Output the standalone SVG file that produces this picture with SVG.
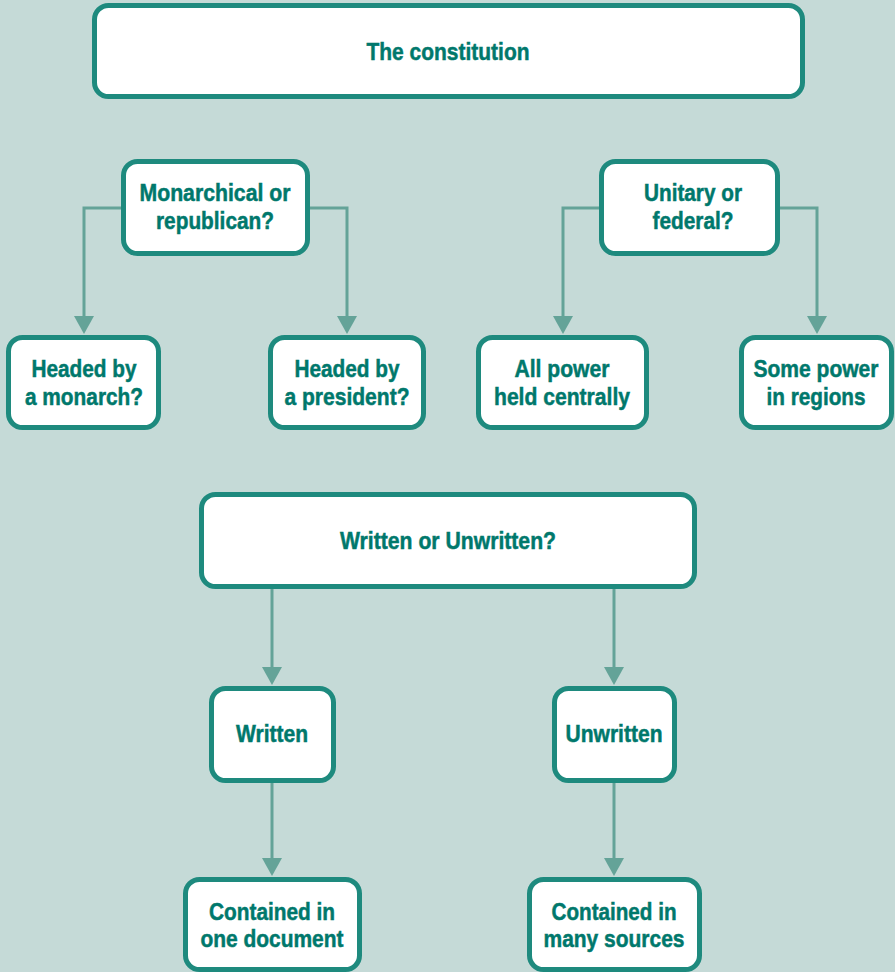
<svg xmlns="http://www.w3.org/2000/svg" width="895" height="972" viewBox="0 0 895 972">
<style>
.bg{fill:#c5dad7}
.box{fill:#ffffff;stroke:#1e8a7e;stroke-width:5}
.lbl{font-family:"Liberation Sans",Arial,sans-serif;font-weight:bold;font-size:24px;fill:#00786c;stroke:#00786c;stroke-width:0.5;text-anchor:middle}
.con{fill:none;stroke:#64a398;stroke-width:3}
</style>
<defs>
<marker id="ah" viewBox="0 0 18 20" refX="4" refY="10" markerWidth="18" markerHeight="20" markerUnits="userSpaceOnUse" orient="auto">
<path d="M0,0 L18,10 L0,20 z" fill="#64a398"/>
</marker>
</defs>
<rect class="bg" x="0" y="0" width="895" height="972"/>
<g id="connectors">
<path class="con" d="M123.5,208 H84 V320" marker-end="url(#ah)"/>
<path class="con" d="M307.5,208 H347 V320" marker-end="url(#ah)"/>
<path class="con" d="M601.5,208 H563 V320" marker-end="url(#ah)"/>
<path class="con" d="M777.5,208 H817 V320" marker-end="url(#ah)"/>
<path class="con" d="M272,589 V671" marker-end="url(#ah)"/>
<path class="con" d="M614,589 V671" marker-end="url(#ah)"/>
<path class="con" d="M272,783 V862" marker-end="url(#ah)"/>
<path class="con" d="M614,783 V862" marker-end="url(#ah)"/>
</g>
<g id="n-constitution">
<rect class="box" x="94.5" y="5.5" width="708" height="91" rx="14"/>
<text class="lbl" x="448" y="60" textLength="163" lengthAdjust="spacingAndGlyphs">The constitution</text>
</g>
<g id="n-monarchical">
<rect class="box" x="123.5" y="161.5" width="184" height="92" rx="14"/>
<text class="lbl" x="215" y="201" textLength="151" lengthAdjust="spacingAndGlyphs">Monarchical or</text>
<text class="lbl" x="215" y="229" textLength="118" lengthAdjust="spacingAndGlyphs">republican?</text>
</g>
<g id="n-unitary">
<rect class="box" x="601.5" y="161.5" width="176" height="92" rx="14"/>
<text class="lbl" x="693" y="201" textLength="98" lengthAdjust="spacingAndGlyphs">Unitary or</text>
<text class="lbl" x="693" y="229" textLength="81" lengthAdjust="spacingAndGlyphs">federal?</text>
</g>
<g id="n-monarch">
<rect class="box" x="8.5" y="337.5" width="150" height="90" rx="14"/>
<text class="lbl" x="84" y="377" textLength="105" lengthAdjust="spacingAndGlyphs">Headed by</text>
<text class="lbl" x="84" y="405" textLength="118" lengthAdjust="spacingAndGlyphs">a monarch?</text>
</g>
<g id="n-president">
<rect class="box" x="270.5" y="337.5" width="153" height="90" rx="14"/>
<text class="lbl" x="347" y="377" textLength="105" lengthAdjust="spacingAndGlyphs">Headed by</text>
<text class="lbl" x="347" y="405" textLength="125" lengthAdjust="spacingAndGlyphs">a president?</text>
</g>
<g id="n-central">
<rect class="box" x="478.5" y="337.5" width="168" height="90" rx="14"/>
<text class="lbl" x="562" y="377" textLength="95" lengthAdjust="spacingAndGlyphs">All power</text>
<text class="lbl" x="562" y="405" textLength="136" lengthAdjust="spacingAndGlyphs">held centrally</text>
</g>
<g id="n-regions">
<rect class="box" x="741.5" y="337.5" width="150" height="90" rx="14"/>
<text class="lbl" x="816" y="377" textLength="125" lengthAdjust="spacingAndGlyphs">Some power</text>
<text class="lbl" x="816" y="405" textLength="99" lengthAdjust="spacingAndGlyphs">in regions</text>
</g>
<g id="n-written-or-unwritten">
<rect class="box" x="201.5" y="494.5" width="493" height="92" rx="14"/>
<text class="lbl" x="448" y="549" textLength="216" lengthAdjust="spacingAndGlyphs">Written or Unwritten?</text>
</g>
<g id="n-written">
<rect class="box" x="211.5" y="688.5" width="122" height="92" rx="14"/>
<text class="lbl" x="272" y="742" textLength="72" lengthAdjust="spacingAndGlyphs">Written</text>
</g>
<g id="n-unwritten">
<rect class="box" x="554.5" y="688.5" width="120" height="92" rx="14"/>
<text class="lbl" x="614" y="742" textLength="97" lengthAdjust="spacingAndGlyphs">Unwritten</text>
</g>
<g id="n-one-document">
<rect class="box" x="185.5" y="879.5" width="174" height="90" rx="14"/>
<text class="lbl" x="272" y="920" textLength="126" lengthAdjust="spacingAndGlyphs">Contained in</text>
<text class="lbl" x="272" y="947" textLength="143" lengthAdjust="spacingAndGlyphs">one document</text>
</g>
<g id="n-many-sources">
<rect class="box" x="529.5" y="879.5" width="170" height="90" rx="14"/>
<text class="lbl" x="614" y="920" textLength="125" lengthAdjust="spacingAndGlyphs">Contained in</text>
<text class="lbl" x="614" y="947" textLength="141" lengthAdjust="spacingAndGlyphs">many sources</text>
</g>
</svg>
